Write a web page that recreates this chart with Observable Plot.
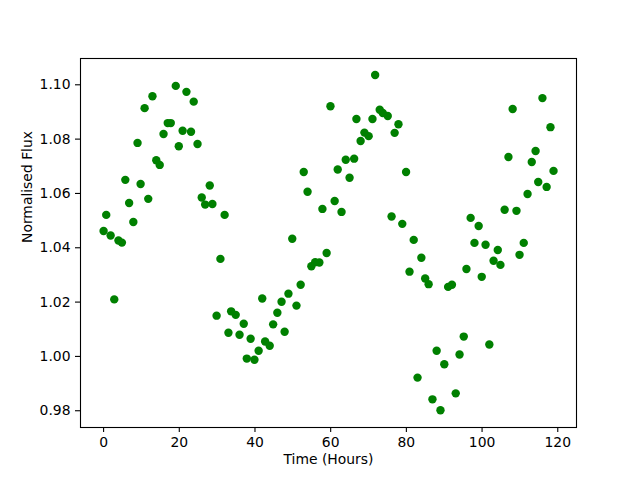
<!DOCTYPE html>
<html>
<head>
<meta charset="utf-8">
<script src="https://cdn.jsdelivr.net/npm/d3@7"></script>
<script src="https://cdn.jsdelivr.net/npm/@observablehq/plot@0.6"></script>
<style>
  html, body { margin: 0; padding: 0; background: #fff; }
</style>
</head>
<body>
<div id="chart"></div>
<script>
const timeHours = [
  0.0, 0.70, 1.86, 2.82, 3.93, 4.84, 5.74, 6.75, 7.86, 8.97, 9.78, 10.84, 11.80, 12.91, 13.92, 14.83, 15.84, 16.95, 17.75, 19.07,
  19.87, 20.88, 21.89, 23.10, 23.81, 24.82, 25.93, 26.84, 28.05, 28.75, 29.86, 30.87, 31.98, 32.99, 33.70, 34.91, 35.92, 37.03, 37.84,
  38.85, 39.86, 40.97, 41.92, 42.68, 43.89, 44.80, 45.91, 47.02, 47.83, 48.84, 49.85, 50.96, 52.07, 52.88, 53.89, 54.90, 55.90, 57.01,
  57.82, 58.93, 59.94, 61.05, 61.86, 62.87, 63.98, 64.99, 66.20, 66.80, 67.91, 68.92, 70.03, 71.04, 71.75, 72.96, 73.77, 75.08, 76.09,
  76.90, 77.91, 78.92, 79.92, 80.83, 81.94, 82.95, 83.96, 84.97, 85.88, 86.89, 88.00, 89.01, 90.02, 91.03, 92.04, 93.04, 94.05, 95.16,
  95.87, 96.98, 97.99, 99.10, 99.91, 100.92, 101.92, 103.04, 104.15, 104.85, 105.96, 106.97, 108.08, 109.09, 109.90, 111.01, 112.02,
  113.13, 114.14, 114.84, 115.95, 117.06, 118.07, 118.88
];
const normalisedFlux = [
  1.0462, 1.0521, 1.0445, 1.0210, 1.0427, 1.0419, 1.0650, 1.0565, 1.0495, 1.0786, 1.0635, 1.0914, 1.0580, 1.0958, 1.0722, 1.0705, 1.0819, 1.0859, 1.0859, 1.0996,
  1.0774, 1.0831, 1.0974, 1.0827, 1.0938, 1.0782, 1.0585, 1.0559, 1.0629, 1.0561, 1.0150, 1.0359, 1.0521, 1.0087, 1.0166, 1.0153, 1.0080, 1.0120, 0.9992,
  1.0065, 0.9988, 1.0021, 1.0213, 1.0055, 1.0039, 1.0118, 1.0161, 1.0201, 1.0091, 1.0231, 1.0433, 1.0187, 1.0264, 1.0679, 1.0606, 1.0332, 1.0347, 1.0346,
  1.0543, 1.0381, 1.0921, 1.0572, 1.0688, 1.0532, 1.0724, 1.0658, 1.0728, 1.0874, 1.0793, 1.0824, 1.0811, 1.0874, 1.1036, 1.0908, 1.0896, 1.0885, 1.0515,
  1.0823, 1.0855, 1.0488, 1.0679, 1.0312, 1.0429, 0.9922, 1.0363, 1.0287, 1.0266, 0.9842, 1.0021, 0.9802, 0.9971, 1.0256, 1.0264, 0.9864, 1.0007, 1.0073,
  1.0322, 1.0510, 1.0418, 1.0480, 1.0293, 1.0411, 1.0044, 1.0352, 1.0392, 1.0337, 1.0540, 1.0734, 1.0911, 1.0536, 1.0374, 1.0418, 1.0598,
  1.0716, 1.0756, 1.0642, 1.0951, 1.0624, 1.0844, 1.0683
];
const xTicks = [0, 20, 40, 60, 80, 100, 120];
const yTicks = [0.98, 1.00, 1.02, 1.04, 1.06, 1.08, 1.10];
const xLabel = "Time (Hours)";
const yLabel = "Normalised Flux";

const points = timeHours.map((t, i) => ({t, f: normalisedFlux[i]}));

const chart = Plot.plot({
  width: 640,
  height: 480,
  marginLeft: 80,
  marginRight: 64,
  marginTop: 58,
  marginBottom: 53,
  style: {fontFamily: "DejaVu Sans", fontSize: "13.9px", background: "#fff", color: "black"},
  x: {domain: [-6.1, 124.95]},
  y: {domain: [0.97383, 1.10968]},
  marks: [
    Plot.dot(points, {x: "t", y: "f", r: 4.2, fill: "#008000", stroke: "none"}),
    Plot.frame({stroke: "black", strokeWidth: 1.1}),
    Plot.axisX(xTicks, {tickSize: 5, tickPadding: 5, label: null, strokeWidth: 1.1}),
    Plot.axisY(yTicks, {tickSize: 5, tickPadding: 5, label: null, tickFormat: d3.format(".2f"), strokeWidth: 1.1}),
    Plot.text([xLabel], {frameAnchor: "bottom", dy: 36, fontSize: 13.9, fill: "black"}),
    Plot.text([yLabel], {frameAnchor: "left", dx: -53, rotate: -90, fontSize: 13.9, fill: "black"})
  ]
});
document.getElementById("chart").appendChild(chart);
</script>
</body>
</html>
